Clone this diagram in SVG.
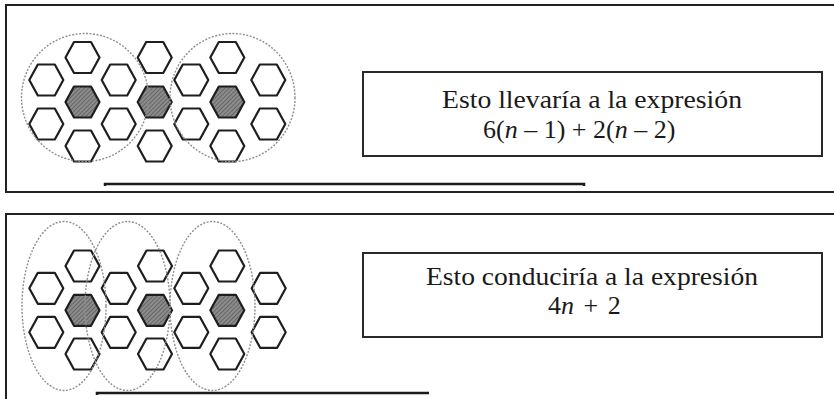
<svg xmlns="http://www.w3.org/2000/svg" width="834" height="399" viewBox="0 0 834 399">
  <style>
    .frame { fill: none; stroke: #222; stroke-width: 2; }
    .rule { stroke: #1a1a1a; stroke-width: 2.5; fill: none; }
    .box { fill: #fff; stroke: #2a2a2a; stroke-width: 2; }
    .hx { fill: none; stroke: #1e1e1e; stroke-width: 2.2; stroke-linejoin: round; }
    .hs { fill: url(#hatch); stroke: #1e1e1e; stroke-width: 2.2; stroke-linejoin: round; }
    .ring { fill: none; stroke: #8f8f8f; stroke-width: 1.4; stroke-dasharray: 2 1.5; }
    .t { font-family: "Liberation Serif", "Times New Roman", serif; font-size: 26px; fill: #1a1a1a; }
    .i { font-style: italic; }
  </style>
  <defs>
    <pattern id="hatch" width="3" height="3" patternUnits="userSpaceOnUse" patternTransform="rotate(45)">
      <rect width="3" height="3" fill="#8c8c8c"/>
      <line x1="0" y1="0" x2="0" y2="3" stroke="#555" stroke-width="1.4"/>
    </pattern>
    <polygon id="hex" points="-17,0 -8.5,-15.5 8.5,-15.5 17,0 8.5,15.5 -8.5,15.5"/>
  </defs>

  <!-- Panel 1 -->
  <g id="panel1">
    <path class="frame" d="M834,5 H6 V192 H834"/>
    <path class="rule" d="M105,186 V184 H584 V186"/>
  </g>

  <!-- Panel 2 -->
  <g id="panel2">
    <path class="frame" d="M834,214 H6 V399"/>
    <path class="rule" d="M97,395 V393 H429"/>
  </g>

  <!-- Top hexagon figure -->
  <g id="fig1">
    <g id="fig1-hexes">
      <use href="#hex" class="hx" x="82.5" y="57.5"/>
      <use href="#hex" class="hx" x="46.3" y="80"/>
      <use href="#hex" class="hx" x="118.7" y="80"/>
      <use href="#hex" class="hs" x="82.5" y="102"/>
      <use href="#hex" class="hx" x="46.3" y="124"/>
      <use href="#hex" class="hx" x="118.7" y="124"/>
      <use href="#hex" class="hx" x="82.5" y="146"/>
      <use href="#hex" class="hx" x="154.7" y="57.5"/>
      <use href="#hex" class="hs" x="154.7" y="102"/>
      <use href="#hex" class="hx" x="154.7" y="146"/>
      <use href="#hex" class="hx" x="191.3" y="80"/>
      <use href="#hex" class="hx" x="191.3" y="124"/>
      <use href="#hex" class="hx" x="227.3" y="57.5"/>
      <use href="#hex" class="hs" x="227.3" y="102"/>
      <use href="#hex" class="hx" x="227.3" y="146"/>
      <use href="#hex" class="hx" x="268.3" y="80"/>
      <use href="#hex" class="hx" x="268.3" y="124"/>
    </g>
    <g id="fig1-rings">
      <ellipse class="ring" cx="85" cy="97.5" rx="63.5" ry="64"/>
      <ellipse class="ring" cx="232.5" cy="97.5" rx="62.5" ry="64"/>
    </g>
  </g>

  <!-- Bottom hexagon figure -->
  <g id="fig2">
    <g id="fig2-hexes">
      <use href="#hex" class="hx" x="82.5" y="266"/>
      <use href="#hex" class="hx" x="46.3" y="288.3"/>
      <use href="#hex" class="hs" x="82.5" y="310.3"/>
      <use href="#hex" class="hx" x="46.3" y="332.3"/>
      <use href="#hex" class="hx" x="82.5" y="354"/>
      <use href="#hex" class="hx" x="118.7" y="288.3"/>
      <use href="#hex" class="hx" x="118.7" y="332.3"/>
      <use href="#hex" class="hx" x="155" y="266"/>
      <use href="#hex" class="hs" x="155" y="310.3"/>
      <use href="#hex" class="hx" x="155" y="354"/>
      <use href="#hex" class="hx" x="191.3" y="288.3"/>
      <use href="#hex" class="hx" x="191.3" y="332.3"/>
      <use href="#hex" class="hx" x="227.3" y="266"/>
      <use href="#hex" class="hs" x="227.3" y="310.3"/>
      <use href="#hex" class="hx" x="227.3" y="354"/>
      <use href="#hex" class="hx" x="268.7" y="288.3"/>
      <use href="#hex" class="hx" x="268.7" y="332.3"/>
    </g>
    <g id="fig2-rings">
      <ellipse class="ring" cx="64" cy="306" rx="42" ry="84.5"/>
      <ellipse class="ring" cx="127.5" cy="306" rx="42.5" ry="84.5"/>
      <ellipse class="ring" cx="212.5" cy="306" rx="42.5" ry="84.5"/>
    </g>
  </g>

  <!-- Text box 1 -->
  <g id="box1">
    <rect class="box" x="363" y="72" width="459" height="84"/>
    <text class="t"><tspan x="442" y="108" textLength="300" lengthAdjust="spacingAndGlyphs">Esto llevaría a la expresión</tspan><tspan x="483" y="138">6(</tspan><tspan class="i">n</tspan><tspan> – 1) + 2(</tspan><tspan class="i">n</tspan><tspan> – 2)</tspan></text>
  </g>

  <!-- Text box 2 -->
  <g id="box2">
    <rect class="box" x="363" y="253" width="459" height="84"/>
    <text class="t"><tspan x="426" y="285" textLength="332" lengthAdjust="spacingAndGlyphs">Esto conduciría a la expresión</tspan><tspan x="548" y="314" style="word-spacing:3px">4<tspan class="i">n</tspan> + 2</tspan></text>
  </g>
</svg>
